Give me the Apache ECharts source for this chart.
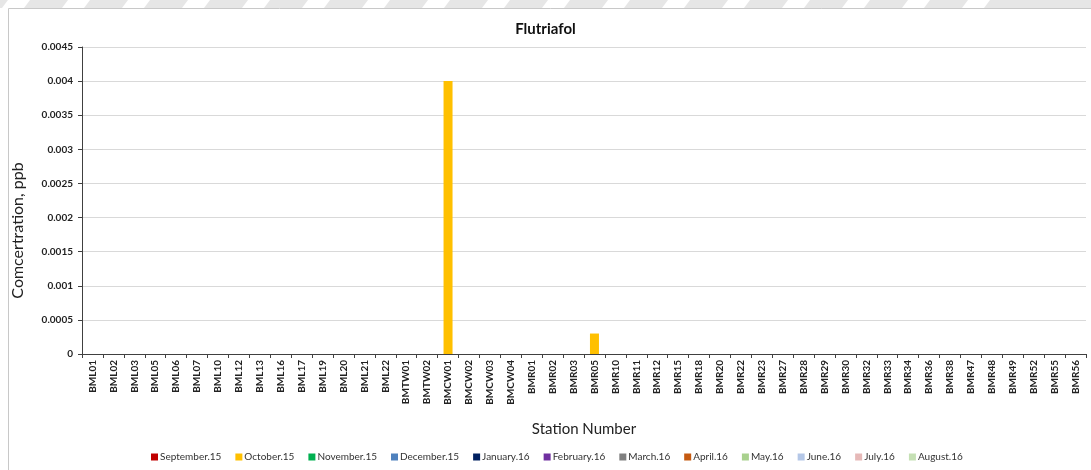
<!DOCTYPE html>
<html>
<head>
<meta charset="utf-8">
<script src="https://cdn.jsdelivr.net/npm/echarts@6/dist/echarts.min.js"></script>
<style>
  html, body { margin: 0; padding: 0; background: #fff; }
  #chart { width: 1091px; height: 470px; }
</style>
</head>
<body>
<div id="chart"></div>
<script>
// station codes along the x axis
var stations = ['BML01', 'BML02', 'BML03', 'BML05', 'BML06', 'BML07', 'BML10', 'BML12', 'BML13', 'BML16',
    'BML17', 'BML19', 'BML20', 'BML21', 'BML22', 'BMTW01', 'BMTW02', 'BMCW01', 'BMCW02', 'BMCW03',
    'BMCW04', 'BMR01', 'BMR02', 'BMR03', 'BMR05', 'BMR10', 'BMR11', 'BMR12', 'BMR15', 'BMR18',
    'BMR20', 'BMR22', 'BMR23', 'BMR27', 'BMR28', 'BMR29', 'BMR30', 'BMR32', 'BMR33', 'BMR34',
    'BMR36', 'BMR38', 'BMR47', 'BMR48', 'BMR49', 'BMR52', 'BMR55', 'BMR56']

var months = ['September.15', 'October.15', 'November.15', 'December.15', 'January.16', 'February.16',
    'March.16', 'April.16', 'May.16', 'June.16', 'July.16', 'August.16']

var monthColors = ['#c00000', '#ffc000', '#00b050', '#4f81bd', '#002060', '#7030a0',
    '#7f7f7f', '#c55a11', '#a9d18e', '#b4c7e7', '#e6b9b8', '#c5e0b4']

// only october has detections (BMCW01, BMR05)
var octoberHits = { BMCW01: 0.004, BMR05: 0.0003 }

var yTicks = { min: 0, max: 0.0045, interval: 0.0005 }

var chart = echarts.init(document.getElementById('chart'))

var series = months.map(function (m, i) {
    var data = stations.map(function (s) {
        if (i === 1) return octoberHits[s] || 0
        return 0
    })
    return {
        name: m,
        type: 'bar',
        barWidth: 9,
        barGap: '-100%',
        itemStyle: { color: monthColors[i] },
        data: data
    }
})

// top watermark band
var stripes = []
for (var k = 0; k < 17; k++) {
    var x0 = 8 + k * 60
    stripes.push({
        type: 'polygon',
        silent: true,
        shape: { points: [[x0, 0], [x0 + 22, 0], [x0 + 16, 8], [x0 - 6, 8]] },
        style: { fill: '#ffffff' }
    })
}

var option = {
    backgroundColor: '#ffffff',
    textStyle: { fontFamily: 'Lato, "Open Sans", sans-serif' },
    title: {
        text: 'Flutriafol',
        left: 'center',
        top: 17,
        textStyle: { fontSize: 15, fontWeight: 'bold', color: '#111' }
    },
    graphic: [
        { type: 'rect', silent: true, shape: { x: 0, y: 0, width: 1091, height: 8 }, style: { fill: '#e6e6e6' } }
    ].concat(stripes).concat([
        { type: 'rect', silent: true, shape: { x: 8.5, y: 8.5, width: 1100, height: 480 },
            style: { fill: 'none', stroke: '#c8c8c8', lineWidth: 1 } }
    ]),
    legend: {
        bottom: 3,
        left: 146,
        itemWidth: 7,
        itemHeight: 7,
        itemGap: 14,
        icon: 'rect',
        textStyle: { fontSize: 10, color: '#333', padding: [0, 0, 0, -3] },
        data: months
    },
    grid: {
        left: 82,
        right: 5,
        top: 47,
        bottom: 116
    },
    xAxis: {
        type: 'category',
        data: stations,
        name: 'Station Number',
        nameLocation: 'middle',
        nameGap: 68,
        nameTextStyle: { fontSize: 15, color: '#222' },
        axisLine: { lineStyle: { color: '#404040', width: 1 } },
        axisTick: { show: true, length: 4, lineStyle: { color: '#404040' } },
        axisLabel: {
            rotate: 90,
            interval: 0,
            fontSize: 10,
            fontWeight: 'bold',
            color: '#222',
            margin: 6
        }
    },
    yAxis: {
        type: 'value',
        min: yTicks.min,
        max: yTicks.max,
        interval: yTicks.interval,
        name: 'Comcertration, ppb',
        nameLocation: 'middle',
        nameGap: 56,
        nameTextStyle: { fontSize: 16, color: '#222', padding: [0, 60, 0, 0] },
        axisLine: { show: true, lineStyle: { color: '#404040' } },
        axisTick: { show: true, length: 4, lineStyle: { color: '#404040' } },
        axisLabel: {
            fontSize: 10,
            fontWeight: 'bold',
            color: '#222',
            margin: 9,
            formatter: function (v) { return String(parseFloat(v.toFixed(4))) }
        },
        splitLine: { lineStyle: { color: '#d9d9d9' } }
    },
    series: series
}

chart.setOption(option)
</script>
</body>
</html>
